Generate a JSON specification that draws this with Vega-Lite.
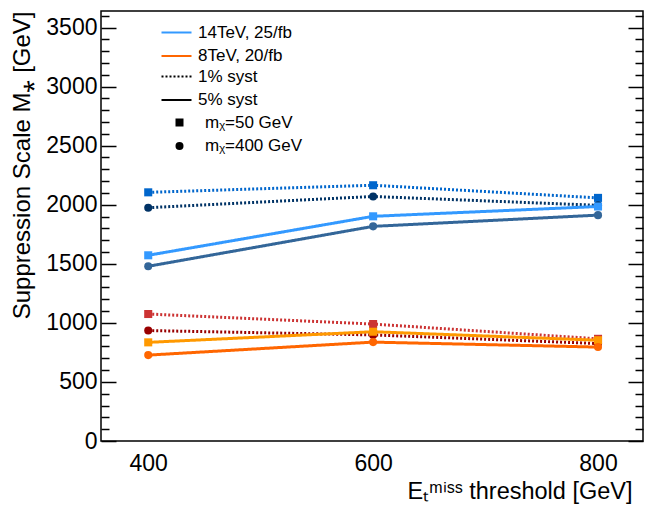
{
  "$schema": "https://vega.github.io/schema/vega-lite/v6.json",
  "width": 542,
  "height": 430,
  "autosize": "none",
  "padding": {"left": 101, "top": 11, "right": 3, "bottom": 66},
  "background": "white",
  "config": {
    "font": "Liberation Sans",
    "view": {"stroke": "black", "strokeWidth": 1.5},
    "axis": {
      "labelFont": "Liberation Sans",
      "titleFont": "Liberation Sans",
      "labelColor": "black",
      "titleColor": "black",
      "labelFontSize": 23,
      "titleFontSize": 23,
      "titleFontWeight": "normal",
      "grid": false,
      "domain": false,
      "tickColor": "black",
      "tickWidth": 1.5
    },
    "legend": {
      "labelFont": "Liberation Sans",
      "labelFontSize": 17,
      "labelColor": "black",
      "padding": 0,
      "rowPadding": 5.5
    }
  },
  "data": {
    "values": [
      {"series": "14-1-50", "energy": "14TeV, 25/fb", "syst": "1% syst", "mass": "mᵪ=50 GeV", "thr": 400, "M": 2105},
      {"series": "14-1-50", "energy": "14TeV, 25/fb", "syst": "1% syst", "mass": "mᵪ=50 GeV", "thr": 600, "M": 2165},
      {"series": "14-1-50", "energy": "14TeV, 25/fb", "syst": "1% syst", "mass": "mᵪ=50 GeV", "thr": 800, "M": 2058},
      {"series": "14-1-400", "energy": "14TeV, 25/fb", "syst": "1% syst", "mass": "mᵪ=400 GeV", "thr": 400, "M": 1975},
      {"series": "14-1-400", "energy": "14TeV, 25/fb", "syst": "1% syst", "mass": "mᵪ=400 GeV", "thr": 600, "M": 2070},
      {"series": "14-1-400", "energy": "14TeV, 25/fb", "syst": "1% syst", "mass": "mᵪ=400 GeV", "thr": 800, "M": 1995},
      {"series": "14-5-50", "energy": "14TeV, 25/fb", "syst": "5% syst", "mass": "mᵪ=50 GeV", "thr": 400, "M": 1572},
      {"series": "14-5-50", "energy": "14TeV, 25/fb", "syst": "5% syst", "mass": "mᵪ=50 GeV", "thr": 600, "M": 1902},
      {"series": "14-5-50", "energy": "14TeV, 25/fb", "syst": "5% syst", "mass": "mᵪ=50 GeV", "thr": 800, "M": 1985},
      {"series": "14-5-400", "energy": "14TeV, 25/fb", "syst": "5% syst", "mass": "mᵪ=400 GeV", "thr": 400, "M": 1479},
      {"series": "14-5-400", "energy": "14TeV, 25/fb", "syst": "5% syst", "mass": "mᵪ=400 GeV", "thr": 600, "M": 1817},
      {"series": "14-5-400", "energy": "14TeV, 25/fb", "syst": "5% syst", "mass": "mᵪ=400 GeV", "thr": 800, "M": 1912},
      {"series": "8-1-50", "energy": "8TeV, 20/fb", "syst": "1% syst", "mass": "mᵪ=50 GeV", "thr": 400, "M": 1075},
      {"series": "8-1-50", "energy": "8TeV, 20/fb", "syst": "1% syst", "mass": "mᵪ=50 GeV", "thr": 600, "M": 990},
      {"series": "8-1-50", "energy": "8TeV, 20/fb", "syst": "1% syst", "mass": "mᵪ=50 GeV", "thr": 800, "M": 865},
      {"series": "8-1-400", "energy": "8TeV, 20/fb", "syst": "1% syst", "mass": "mᵪ=400 GeV", "thr": 400, "M": 935},
      {"series": "8-1-400", "energy": "8TeV, 20/fb", "syst": "1% syst", "mass": "mᵪ=400 GeV", "thr": 600, "M": 898},
      {"series": "8-1-400", "energy": "8TeV, 20/fb", "syst": "1% syst", "mass": "mᵪ=400 GeV", "thr": 800, "M": 825},
      {"series": "8-5-50", "energy": "8TeV, 20/fb", "syst": "5% syst", "mass": "mᵪ=50 GeV", "thr": 400, "M": 835},
      {"series": "8-5-50", "energy": "8TeV, 20/fb", "syst": "5% syst", "mass": "mᵪ=50 GeV", "thr": 600, "M": 925},
      {"series": "8-5-50", "energy": "8TeV, 20/fb", "syst": "5% syst", "mass": "mᵪ=50 GeV", "thr": 800, "M": 853},
      {"series": "8-5-400", "energy": "8TeV, 20/fb", "syst": "5% syst", "mass": "mᵪ=400 GeV", "thr": 400, "M": 727},
      {"series": "8-5-400", "energy": "8TeV, 20/fb", "syst": "5% syst", "mass": "mᵪ=400 GeV", "thr": 600, "M": 837},
      {"series": "8-5-400", "energy": "8TeV, 20/fb", "syst": "5% syst", "mass": "mᵪ=400 GeV", "thr": 800, "M": 795}
    ]
  },
  "encoding": {
    "x": {
      "field": "thr",
      "type": "quantitative",
      "scale": {"domain": [358, 840], "nice": false, "zero": false},
      "axis": {
        "values": [400, 600, 800],
        "format": "d",
        "ticks": false,
        "labelPadding": 11,
        "labelFlush": false,
        "title": "Eₜᵐⁱˢˢ threshold [GeV]",
        "titleFontSize": 23.5,
        "titleX": 531,
        "titleY": 57,
        "titleAlign": "right",
        "titleBaseline": "alphabetic",
        "titleAnchor": null
      }
    }
  },
  "layer": [
    {
      "mark": {"type": "line", "strokeWidth": 3},
      "encoding": {
        "y": {
          "field": "M",
          "type": "quantitative",
          "scale": {"domain": [0, 3640], "nice": false},
          "axis": {
            "orient": "left",
            "values": [0, 100, 200, 300, 400, 500, 600, 700, 800, 900, 1000, 1100, 1200, 1300, 1400, 1500, 1600, 1700, 1800, 1900, 2000, 2100, 2200, 2300, 2400, 2500, 2600, 2700, 2800, 2900, 3000, 3100, 3200, 3300, 3400, 3500, 3600],
            "format": "d",
            "labelExpr": "datum.value % 500 === 0 ? datum.label : ''",
            "tickSize": {"condition": {"test": "datum.value % 500 === 0", "value": -15}, "value": -8},
            "labelPadding": 19,
            "labelFlush": false,
            "title": "Suppression Scale M⁎ [GeV]",
            "titleFontSize": 24,
            "titleX": -67,
            "titleY": 0,
            "titleAngle": 270,
            "titleAlign": "right",
            "titleBaseline": "bottom",
            "titleAnchor": null
          }
        },
        "color": {
          "field": "series",
          "type": "nominal",
          "scale": {
            "domain": ["14-1-50", "14-1-400", "14-5-50", "14-5-400", "8-1-50", "8-1-400", "8-5-50", "8-5-400"],
            "range": ["#0066cc", "#003366", "#3399ff", "#336699", "#cc3333", "#990000", "#ff9900", "#ff6600"]
          },
          "legend": null
        },
        "strokeDash": {
          "field": "syst",
          "type": "nominal",
          "scale": {"domain": ["1% syst", "5% syst"], "range": [[2, 2], [1, 0]]},
          "legend": {
            "orient": "none",
            "legendX": 67,
            "legendY": 57,
            "title": null,
            "symbolType": "M-2,0H2",
            "symbolSize": 225,
            "symbolStrokeWidth": 2,
            "symbolStrokeColor": "black",
            "labelOffset": 13
          }
        }
      }
    },
    {
      "mark": {"type": "point", "filled": true, "size": 65, "opacity": 1},
      "encoding": {
        "y": {
          "field": "M",
          "type": "quantitative",
          "scale": {"domain": [0, 3640], "nice": false},
          "axis": {
            "orient": "right",
            "values": [0, 100, 200, 300, 400, 500, 600, 700, 800, 900, 1000, 1100, 1200, 1300, 1400, 1500, 1600, 1700, 1800, 1900, 2000, 2100, 2200, 2300, 2400, 2500, 2600, 2700, 2800, 2900, 3000, 3100, 3200, 3300, 3400, 3500, 3600],
            "labels": false,
            "tickSize": {"condition": {"test": "datum.value % 500 === 0", "value": -15}, "value": -8},
            "title": null
          }
        },
        "color": {
          "field": "series",
          "type": "nominal",
          "scale": {
            "domain": ["14-1-50", "14-1-400", "14-5-50", "14-5-400", "8-1-50", "8-1-400", "8-5-50", "8-5-400"],
            "range": ["#0066cc", "#003366", "#3399ff", "#336699", "#cc3333", "#990000", "#ff9900", "#ff6600"]
          },
          "legend": null
        },
        "shape": {
          "field": "mass",
          "type": "nominal",
          "scale": {"domain": ["mᵪ=50 GeV", "mᵪ=400 GeV"], "range": ["square", "circle"]},
          "legend": {
            "orient": "none",
            "legendX": 70,
            "legendY": 103,
            "title": null,
            "symbolSize": 64,
            "symbolFillColor": "black",
            "symbolStrokeColor": "black",
            "symbolStrokeWidth": 0,
            "labelOffset": 17
          }
        }
      }
    },
    {
      "transform": [{"filter": "false"}],
      "mark": {"type": "line"},
      "encoding": {
        "y": {
          "field": "M",
          "type": "quantitative",
          "scale": {"domain": [0, 3640], "nice": false},
          "axis": null
        },
        "color": {
          "field": "energy",
          "type": "nominal",
          "scale": {"domain": ["14TeV, 25/fb", "8TeV, 20/fb"], "range": ["#3399ff", "#ff6600"]},
          "legend": {
            "orient": "none",
            "legendX": 67,
            "legendY": 13,
            "title": null,
            "symbolType": "M-2,0H2",
            "symbolSize": 225,
            "symbolStrokeWidth": 2,
            "labelOffset": 13
          }
        }
      }
    }
  ],
  "resolve": {"scale": {"color": "independent"}, "axis": {"y": "independent"}}
}
